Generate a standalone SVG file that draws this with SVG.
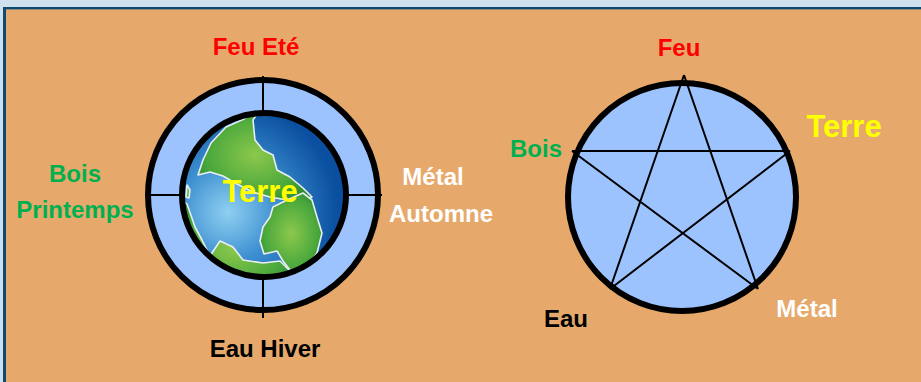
<svg xmlns="http://www.w3.org/2000/svg" width="921" height="382" viewBox="0 0 921 382">
  <style>
    .lbl { font-family: "Liberation Sans", Arial, sans-serif; font-weight: bold; font-size: 24px; text-anchor: middle; }
    .big { font-size: 31px; }
    .red { fill: #ff0000; }
    .green { fill: #00b050; }
    .yellow { fill: #ffff00; }
    .white { fill: #ffffff; }
    .black { fill: #000000; }
    .ring { fill: #9dc3ff; stroke: #000; stroke-width: 6; }
    .thin { stroke: #000; stroke-width: 2; fill: none; stroke-linecap: butt; }
    .land { fill: url(#landGrad); stroke: #e8eef2; stroke-width: 1.6; stroke-linejoin: round; }
  </style>
  <defs>
    <radialGradient id="seaGrad" cx="228" cy="212" r="110" gradientUnits="userSpaceOnUse">
      <stop offset="0" stop-color="#8fd0f2"/>
      <stop offset="0.45" stop-color="#3d8fd0"/>
      <stop offset="1" stop-color="#0a4fa0"/>
    </radialGradient>
    <radialGradient id="landGrad" cx="0.5" cy="0.5" r="0.6">
      <stop offset="0" stop-color="#8cc84c"/>
      <stop offset="0.7" stop-color="#4aa83c"/>
      <stop offset="1" stop-color="#2a8a32"/>
    </radialGradient>
    <clipPath id="globeClip">
      <circle cx="264" cy="195" r="82"/>
    </clipPath>
  </defs>

  <!-- frame -->
  <rect x="0" y="0" width="921" height="382" fill="#cfe1ec"/>
  <rect x="3" y="7" width="930" height="390" fill="#0d4b70"/>
  <rect x="6" y="9" width="930" height="390" fill="#8f8a78"/>
  <rect x="6" y="10" width="930" height="390" fill="#e6a96b"/>

  <!-- seasons wheel -->
  <g id="wheel">
    <circle class="ring" cx="263" cy="195" r="115"/>
  </g>

  <g id="connectors">
    <!-- wheel cross -->
    <line class="thin" x1="263" y1="76" x2="263" y2="318"/>
    <line class="thin" x1="146" y1="195" x2="382" y2="195"/>
  </g>

  <g id="globe">
    <g clip-path="url(#globeClip)">
      <rect x="180" y="110" width="170" height="170" fill="url(#seaGrad)"/>
      <path class="land" d="M198 175 L203 160 L211 143 L226 127 L244 119 L253 110 L260 110 L253 120 L255 140 L263 150 L273 155 L277 170 L290 177 L303 188 L312 197 L303 200 L287 200 L270 197 L253 192 L237 184 L223 176 L210 172 Z"/>
      <path class="land" d="M273 207 L287 200 L303 193 L312 200 L317 217 L322 233 L317 253 L307 267 L293 274 L283 261 L277 251 L264 254 L260 241 L263 227 L270 217 Z"/>
      <path class="land" d="M182 200 L187 204 L195 227 L202 240 L210 256 L220 241 L233 247 L243 260 L263 263 L280 261 L293 274 L292 295 L240 295 L175 265 Z"/>
      <path class="land" d="M187 185 L190 190 L189 198 L186 197 Z"/>
    </g>
    <circle cx="264" cy="195" r="82" fill="none" stroke="#000" stroke-width="6"/>
    <text class="lbl big yellow" x="260" y="202">Terre</text>
  </g>

  <!-- wheel labels -->
  <g id="feu-ete"><text class="lbl red" x="256" y="55">Feu Eté</text></g>
  <g id="bois-printemps">
    <text class="lbl green" x="75" y="182">Bois</text>
    <text class="lbl green" x="75" y="218">Printemps</text>
  </g>
  <g id="metal-automne">
    <text class="lbl white" x="433" y="185">Métal</text>
    <text class="lbl white" x="441" y="222">Automne</text>
  </g>
  <g id="eau-hiver"><text class="lbl black" x="265" y="357">Eau Hiver</text></g>

  <!-- five elements circle -->
  <g id="cycle">
    <circle class="ring" cx="682" cy="197" r="114"/>
  </g>
  <g id="pentagram" class="connectors">
    <path class="thin" d="M684 75 L610 289 M684 75 L758 289 M572 151 L790 151 M572 151 L758 289 M790 151 L610 289"/>
  </g>

  <g id="feu"><text class="lbl red" x="679" y="56">Feu</text></g>
  <g id="terre"><text class="lbl big yellow" x="844" y="137">Terre</text></g>
  <g id="bois"><text class="lbl green" x="536" y="157">Bois</text></g>
  <g id="eau"><text class="lbl black" x="566" y="327">Eau</text></g>
  <g id="metal"><text class="lbl white" x="807" y="317">Métal</text></g>
</svg>
